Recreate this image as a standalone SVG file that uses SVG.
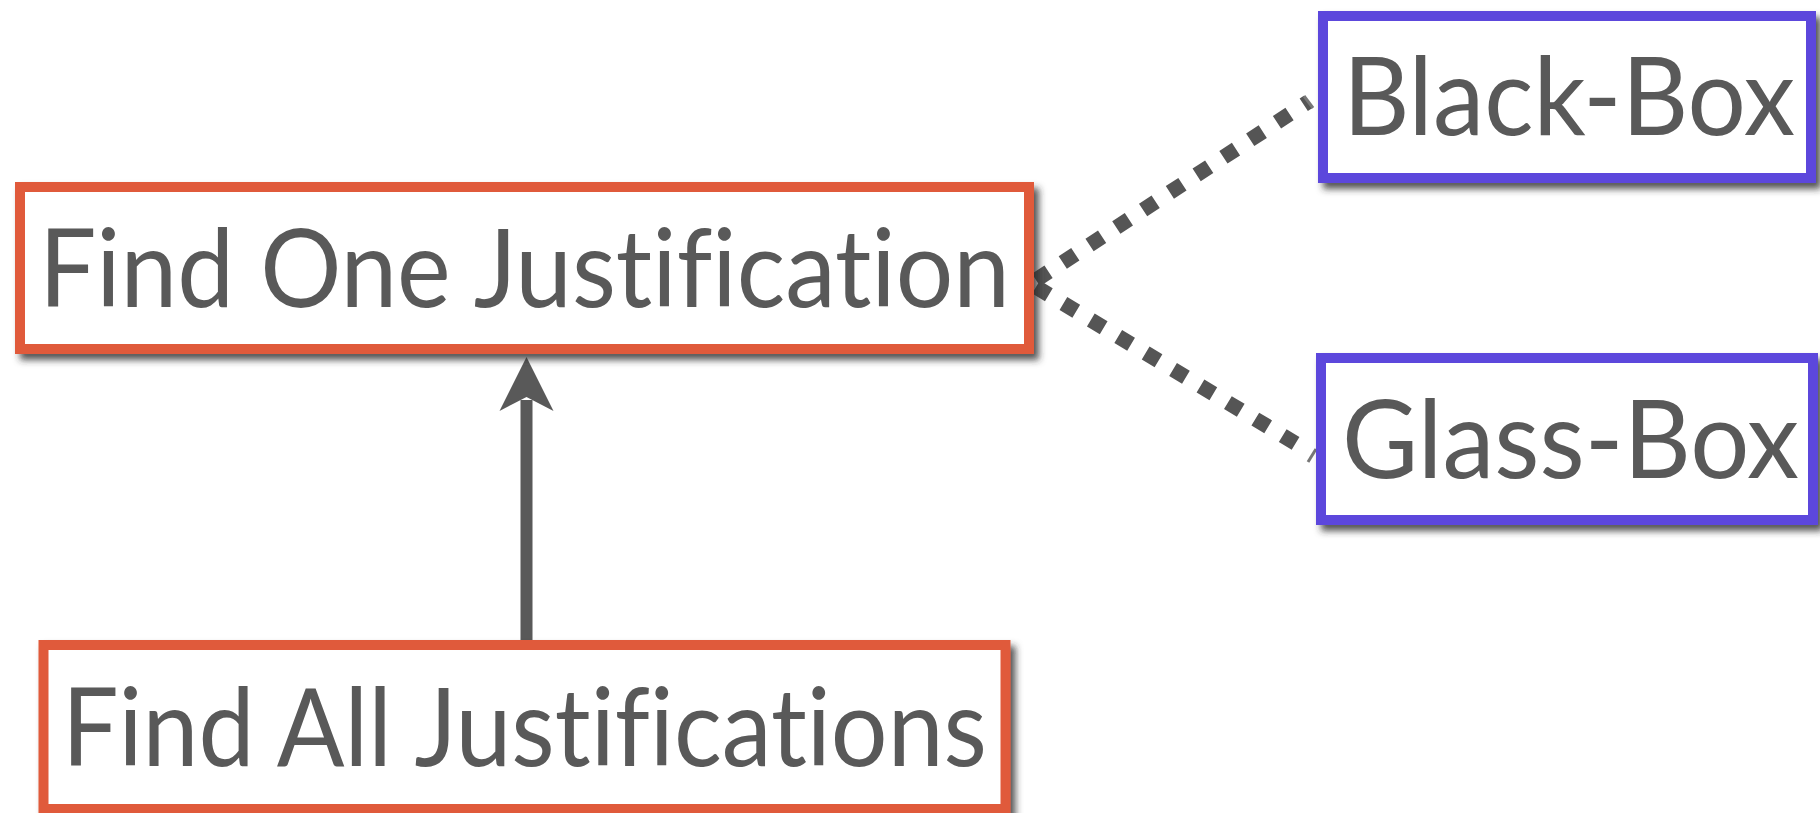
<svg xmlns="http://www.w3.org/2000/svg" width="1820" height="813" viewBox="0 0 1820 813">
  <defs>
    <filter id="shadow" x="-5%" y="-10%" width="115%" height="130%">
      <feDropShadow dx="5" dy="6" stdDeviation="3.5" flood-color="#2a2a2a" flood-opacity="0.8"/>
    </filter>
  </defs>
  <style>
    .box { fill: #ffffff; stroke-width: 10; filter: url(#shadow); }
    .task { stroke: #E05A3A; }
    .method { stroke: #5C46DC; }
    .label { font-family: Lato, "Open Sans", "Liberation Sans", sans-serif; font-size: 108px; fill: #595959; font-variant-ligatures: none; }
    .dots { fill: none; stroke: #555555; stroke-width: 15; stroke-dasharray: 15 17; stroke-linecap: butt; }
    .tick { stroke: #777777; stroke-width: 3; }
    .shaft { stroke: #595959; stroke-width: 12; }
    .head { fill: #595959; }
  </style>

  <!-- connectors -->
  <g id="connectors">
    <path class="dots" d="M1036 280 L1308 102"/>
    <line class="tick" x1="1304" y1="96" x2="1313" y2="108"/>
    <path class="dots" d="M1036 287 L1310 452"/>
    <line class="tick" x1="1316" y1="449" x2="1308" y2="462"/>
    <line class="shaft" x1="526.5" y1="640" x2="526.5" y2="400"/>
    <path class="head" d="M526.5 357 L553.5 411 L526.5 397 L499.5 411 Z"/>
  </g>

  <!-- nodes -->
  <g id="find-one">
    <rect class="box task" x="20" y="187" width="1009" height="162"/>
    <text class="label" x="39" y="307" textLength="971" lengthAdjust="spacingAndGlyphs">Find One Justification</text>
  </g>

  <g id="black-box">
    <rect class="box method" x="1323" y="16" width="488" height="162"/>
    <text class="label" x="1343" y="135" textLength="452" lengthAdjust="spacingAndGlyphs">Black-Box</text>
  </g>

  <g id="glass-box">
    <rect class="box method" x="1321" y="358" width="492" height="162"/>
    <text class="label" x="1342" y="478" textLength="457" lengthAdjust="spacingAndGlyphs">Glass-Box</text>
  </g>

  <g id="find-all">
    <rect class="box task" x="43.5" y="645" width="962" height="164"/>
    <text class="label" x="62" y="766" textLength="925" lengthAdjust="spacingAndGlyphs">Find All Justifications</text>
  </g>
</svg>
